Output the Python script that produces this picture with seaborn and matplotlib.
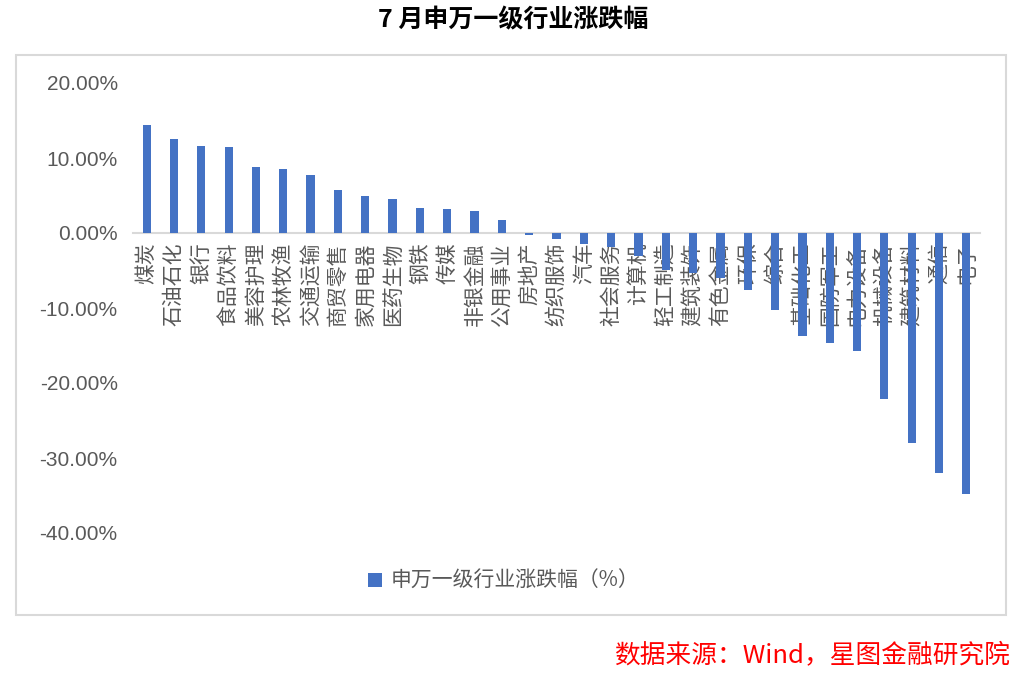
import matplotlib
matplotlib.use("Agg")
import matplotlib.pyplot as plt
import seaborn as sns
import pandas as pd
from matplotlib.patches import Patch, Rectangle
from matplotlib.ticker import FuncFormatter

categories = ['煤炭', '石油石化', '银行', '食品饮料', '美容护理', '农林牧渔', '交通运输',
              '商贸零售', '家用电器', '医药生物', '钢铁', '传媒', '非银金融', '公用事业',
              '房地产', '纺织服饰', '汽车', '社会服务', '计算机', '轻工制造', '建筑装饰',
              '有色金属', '环保', '综合', '基础化工', '国防军工', '电力设备', '机械设备',
              '建筑材料', '通信', '电子']
values = [14.4, 12.6, 11.6, 11.5, 8.8, 8.5, 7.7, 5.8, 4.9, 4.5, 3.3, 3.2, 2.9, 1.8,
          -0.3, -0.8, -1.4, -1.8, -3.1, -4.9, -5.3, -6.0, -7.6, -10.2, -13.7, -14.6,
          -15.7, -22.1, -28.0, -32.0, -34.8]
y_ticks = [20, 10, 0, -10, -20, -30, -40]

title = '7 月申万一级行业涨跌幅'
series_name = '申万一级行业涨跌幅（%）'
source = '数据来源：Wind，星图金融研究院'

sns.set_theme(style='white')
cjk = ['Noto Sans CJK SC', 'DejaVu Sans']
plt.rcParams['font.family'] = cjk

W, H = 1022, 676
fig = plt.figure(figsize=(W / 100, H / 100), dpi=100)
fig.patch.set_facecolor('white')

ax = fig.add_axes([133 / W, 1 - 533 / H, (980 - 133) / W, 450 / H])
df = pd.DataFrame({'行业': categories, '涨跌幅': values})
bar_color = '#4472C4'
sns.barplot(data=df, x='行业', y='涨跌幅', color=bar_color, saturation=1,
            width=0.3, linewidth=0, ax=ax)

ax.set_xlim(-0.5, len(categories) - 0.5)
ax.set_ylim(-40, 20)
ax.set_yticks(y_ticks)
ax.yaxis.set_major_formatter(FuncFormatter(lambda v, p: f'{v:.2f}%'))
ax.set_xlabel('')
ax.set_ylabel('')
ax.grid(False)

for s in ['left', 'top', 'right']:
    ax.spines[s].set_visible(False)
ax.spines['bottom'].set_position(('data', 0))
ax.spines['bottom'].set_color('#d9d9d9')
ax.spines['bottom'].set_linewidth(1.5)
ax.spines['bottom'].set_zorder(0)

ax.tick_params(axis='both', length=0)
ax.tick_params(axis='x', pad=7)
ax.tick_params(axis='y', pad=11)
for lab in ax.get_xticklabels():
    lab.set_rotation(90)
    lab.set_fontsize(15)
    lab.set_color('#595959')
    lab.set_family(cjk)
    lab.set_va('top')
    lab.set_ha('center')
for lab in ax.get_yticklabels():
    lab.set_fontsize(15)
    lab.set_color('#595959')
    lab.set_family(['Liberation Sans', 'DejaVu Sans'])

# outer chart frame
fig.patches.append(Rectangle((16 / W, 1 - 615 / H), 990 / W, 560 / H,
                             transform=fig.transFigure, fill=False,
                             edgecolor='#d9d9d9', linewidth=1.5))

fig.text(513 / W, 1 - 20 / H, title, ha='center', va='center', fontsize=18,
         fontweight='bold', color='black', family=cjk)

leg = fig.legend(handles=[Patch(facecolor=bar_color, edgecolor='none', label=series_name)],
                 loc='center', bbox_to_anchor=(504 / W, 1 - 581 / H), frameon=False,
                 handlelength=0.65, handleheight=0.65, handletextpad=0.45,
                 prop={'family': cjk, 'size': 15})
for t in leg.get_texts():
    t.set_color('#595959')

fig.text(1010 / W, 1 - 656 / H, source, ha='right', va='center', fontsize=18.5,
         color='#ff0000', style='italic', family=cjk)

fig.savefig('out.png', dpi=100)
